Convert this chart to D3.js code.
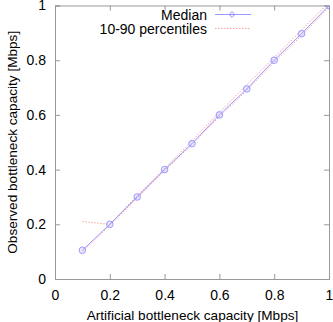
<!DOCTYPE html>
<html><head><meta charset="utf-8">
<script src="https://cdn.jsdelivr.net/npm/d3@7"></script>
<style>body{margin:0;background:#fff}svg{display:block}text{font-family:"Liberation Sans",Arial,sans-serif;fill:#000}</style>
</head><body><svg id="c" width="333" height="322"></svg>
<script>
const capacity = [0.1,0.2,0.3,0.4,0.5,0.6,0.7,0.8,0.9,1.0];
const median = [0.105,0.2,0.3,0.4,0.495,0.6,0.695,0.8,0.897,1.0];
const p90 = [0.21,0.2,0.305,0.405,0.505,0.61,0.71,0.81,0.91,1.012];
const p10 = [0.1,0.196,0.296,0.396,0.492,0.594,0.69,0.793,0.89,0.994];
const xTicks = [0,0.2,0.4,0.6,0.8,1];
const yTicks = [0,0.2,0.4,0.6,0.8,1];
const legendLabels = ["Median","10-90 percentiles"];

const svg = d3.select("#c");
const L=55, R=329, T=5.5, B=279;
const x = d3.scaleLinear().domain([0,1]).range([L,R]);
const y = d3.scaleLinear().domain([0,1]).range([B,T]);

svg.append("defs").append("clipPath").attr("id","clip").append("rect")
  .attr("x",L).attr("y",T).attr("width",R-L).attr("height",B-T);

const gray="#999";
const ax = svg.append("g").attr("transform",`translate(0,${B})`)
  .call(d3.axisBottom(x).tickValues(xTicks).tickSize(-5).tickPadding(11).tickFormat(d3.format("~g")));
const ay = svg.append("g").attr("transform",`translate(${L},0)`)
  .call(d3.axisLeft(y).tickValues(yTicks).tickSize(-5).tickPadding(9).tickFormat(d3.format("~g")));
const axT = svg.append("g").attr("transform",`translate(0,${T})`)
  .call(d3.axisTop(x).tickValues(xTicks).tickSize(-5).tickFormat(""));
const ayR = svg.append("g").attr("transform",`translate(${R},0)`)
  .call(d3.axisRight(y).tickValues(yTicks).tickSize(-5).tickFormat(""));
[ax,ay,axT,ayR].forEach(g=>{
  g.selectAll("path").attr("stroke",gray);
  g.selectAll("line").attr("stroke",gray);
  g.selectAll("text").style("font-size","14px").attr("fill","#000");
});

const plot = svg.append("g").attr("clip-path","url(#clip)");
const line = d3.line().x((d,i)=>x(capacity[i])).y(d=>y(d));
const red="#ffa0a0", blue="#9a9aff";
[p90,p10].forEach(arr=>plot.append("path").datum(arr).attr("d",line)
  .attr("fill","none").attr("stroke",red).attr("stroke-width",1).attr("stroke-dasharray","1.5,1.5"));
plot.append("path").datum(median).attr("d",line).attr("fill","none").attr("stroke",blue).attr("stroke-width",1);
plot.selectAll("circle.m").data(median).join("circle").attr("class","m")
  .attr("cx",(d,i)=>x(capacity[i])).attr("cy",d=>y(d)).attr("r",3.3)
  .attr("fill","rgba(150,150,255,0.2)").attr("stroke",blue).attr("stroke-width",1);

const lg = svg.append("g");
lg.append("text").attr("x",207).attr("y",19.5).attr("text-anchor","end").style("font-size","14px").text(legendLabels[0]);
lg.append("text").attr("x",207).attr("y",34).attr("text-anchor","end").style("font-size","14px").text(legendLabels[1]);
lg.append("line").attr("x1",215).attr("x2",251).attr("y1",14.5).attr("y2",14.5).attr("stroke",blue);
lg.append("path").attr("d",d3.symbol(d3.symbolDiamond2,22)()).attr("transform","translate(232,14.5)")
  .attr("fill","rgba(150,150,255,0.2)").attr("stroke",blue);
lg.append("line").attr("x1",215).attr("x2",251).attr("y1",28.5).attr("y2",28.5).attr("stroke",red).attr("stroke-dasharray","1.5,1.5");

svg.append("text").attr("x",(L+R)/2+0.5).attr("y",319.5).attr("text-anchor","middle").style("font-size","13.6px")
  .text("Artificial bottleneck capacity [Mbps]");
svg.append("text").attr("transform",`translate(16.5,${(T+B)/2}) rotate(-90)`).attr("text-anchor","middle").style("font-size","13.6px")
  .text("Observed bottleneck capacity [Mbps]");
</script></body></html>
